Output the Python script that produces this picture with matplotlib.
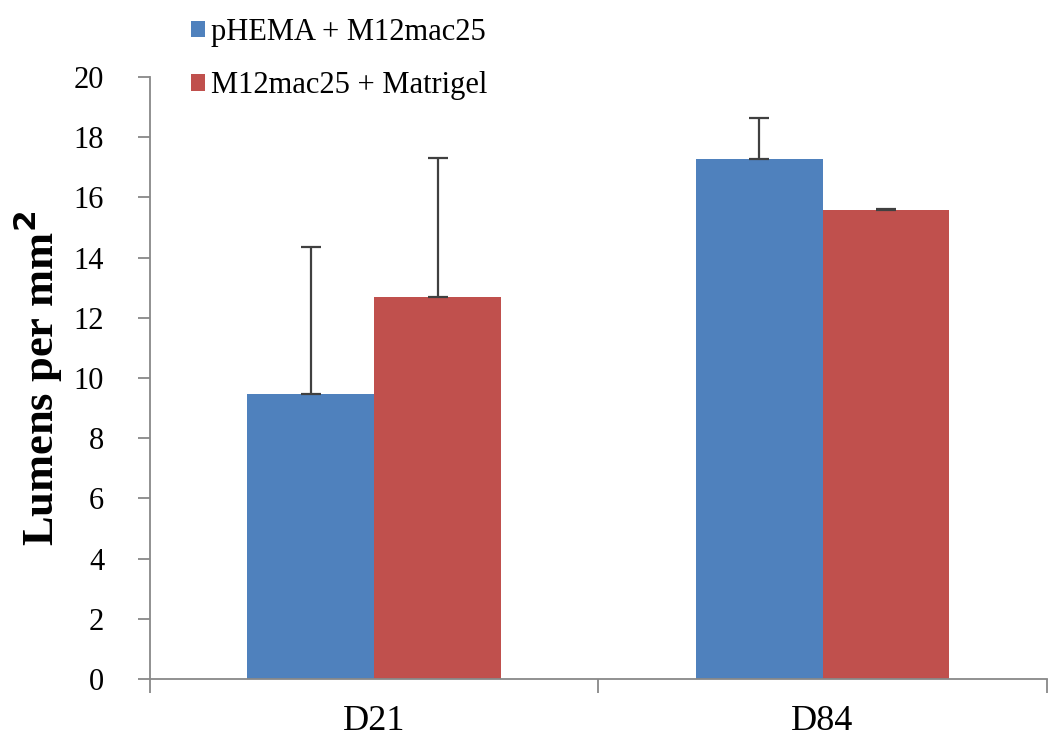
import numpy as np
import matplotlib
matplotlib.use('Agg')
import matplotlib.pyplot as plt

plt.rcParams['font.family'] = ['Liberation Serif', 'DejaVu Serif']

categories = ['D21', 'D84']
series_names = ['pHEMA + M12mac25', 'M12mac25 + Matrigel']
pHEMA_vals = [9.48, 17.27]
pHEMA_err = [4.88, 1.36]
matrigel_vals = [12.68, 15.58]
matrigel_err = [4.63, 0.03]
colors = ['#4F81BD', '#C0504D']

fig = plt.figure(figsize=(10.5, 7.4), dpi=100)
ax = fig.add_axes([0.1429, 0.0824, 0.854, 0.8136])

x = np.arange(len(categories))
width = 0.283
means = [pHEMA_vals, matrigel_vals]
errs = [pHEMA_err, matrigel_err]
for i in range(2):
    pos = x + (i - 0.5) * width
    ax.bar(pos, means[i], width, color=colors[i], label=series_names[i], zorder=2)
    ax.errorbar(pos, means[i], yerr=[np.zeros(len(categories)), errs[i]],
                fmt='none', ecolor='#404040', elinewidth=1.6, capsize=7,
                capthick=1.6, zorder=3)

ax.set_xlim(-0.5, 1.5)
ax.set_ylim(0, 20)
ax.set_yticks(range(0, 21, 2))
ax.set_xticks(x)
ax.set_xticklabels(categories, fontsize=26)
ax.set_xticks([-0.5, 0.5, 1.5], minor=True)
ax.tick_params(axis='x', which='major', length=0, pad=19)
ax.tick_params(axis='x', which='minor', length=10, width=1.3, color='#888888')
ax.tick_params(axis='y', length=9, width=1.3, color='#888888', labelsize=22, pad=24)

for side in ['top', 'right']:
    ax.spines[side].set_visible(False)
for side in ['left', 'bottom']:
    ax.spines[side].set_color('#888888')
    ax.spines[side].set_linewidth(1.3)

ax.set_ylabel('Lumens per mm$^\\mathbf{2}$', fontsize=32, fontweight='bold')
ax.yaxis.set_label_coords(-0.095, 0.5)

fig.legend(loc='upper left', bbox_to_anchor=(0.156, 1.013), frameon=False,
           fontsize=22, handlelength=0.45, handleheight=0.45, handletextpad=0.18,
           labelspacing=0.8)

fig.savefig('out.png', dpi=100)
